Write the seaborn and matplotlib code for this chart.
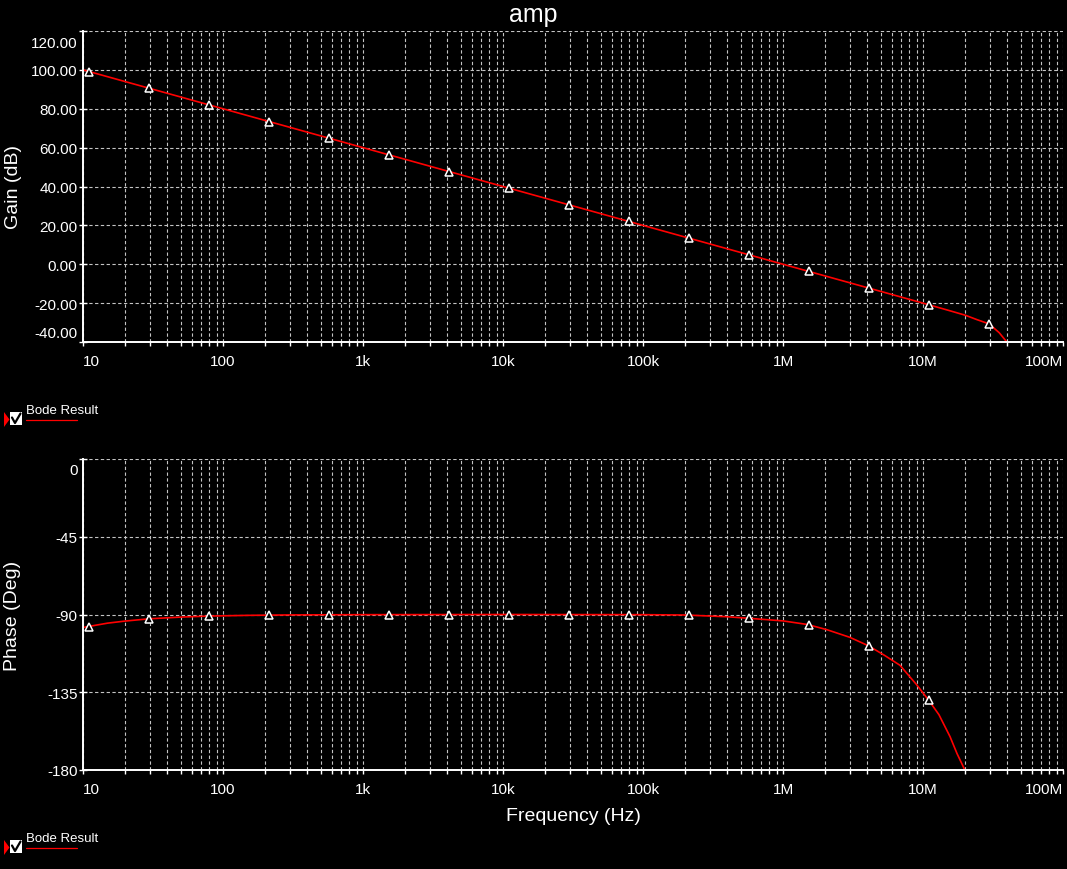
import numpy as np
import pandas as pd
import matplotlib
matplotlib.use('Agg')
import matplotlib.pyplot as plt
from matplotlib.ticker import FixedLocator, LogLocator, NullFormatter
from matplotlib.patches import Polygon, Rectangle
from matplotlib.transforms import ScaledTranslation
import seaborn as sns

# --- data ---
freq_ticks = [10, 100, 1e3, 1e4, 1e5, 1e6, 1e7, 1e8]
freq_labels = ['10', '100', '1k', '10k', '100k', '1M', '10M', '100M']
gain_ticks = [-40, -20, 0, 20, 40, 60, 80, 100, 120]
phase_ticks = [-180, -135, -90, -45, 0]

# gain trace
gain_freq = [10, 100, 1e3, 1e4, 1e5, 1e6, 1e7, 1.5e7, 2.0e7, 2.43e7, 2.97e7, 3.5e7, 4.0e7, 4.5e7]
gain_db = [100, 80, 60, 40, 20, 0, -20, -23.6, -26.2, -28.5, -30.7, -35.2, -40.3, -46]

# phase trace
phase_freq = [10, 15, 20, 29.6, 50, 79.5, 150, 300, 1e3, 1e4, 1e5, 2e5, 4e5, 5.7e5, 1e6, 1.5e6,
              2.06e6, 3.0e6, 4.1e6, 5.3e6, 6.85e6, 8.0e6, 9.0e6, 1.1e7, 1.3e7, 1.56e7, 1.75e7,
              1.99e7, 2.1e7]
phase_deg = [-97.5, -95.0, -93.8, -92.5, -91.5, -90.9, -90.5, -90.25, -90.1, -90.0, -90.1, -90.3,
             -91.3, -92.2, -93.7, -95.8, -98.8, -103.2, -108.2, -113.6, -119.4, -125.8, -130.6,
             -139.7, -148.0, -160.7, -170.5, -180.0, -186.0]

# marker (cursor) positions
marker_freq = [11.0, 29.6, 79.5, 213, 572, 1535, 4120, 11050, 29650, 79550, 213400, 572600,
               1536000, 4122000, 11060000, 29670000]
marker_gain = [99.1, 90.6, 82.0, 73.4, 64.8, 56.3, 47.7, 39.1, 30.5, 22.0, 13.4, 4.8,
               -3.7, -12.3, -21.0, -30.7]
marker_phase = [-97.0, -92.4, -90.9, -90.3, -90.1, -90.0, -90.0, -90.0, -90.0, -90.1, -90.4,
                -92.2, -95.8, -108.2, -139.7]

df_gain = pd.DataFrame({'freq': gain_freq, 'gain': gain_db})
df_phase = pd.DataFrame({'freq': phase_freq, 'phase': phase_deg})

#%%

sns.set_theme(style='dark', rc={'figure.facecolor': 'black', 'axes.facecolor': 'black',
                                'savefig.facecolor': 'black'})
plt.rcParams['font.family'] = ['Liberation Sans', 'DejaVu Sans']

W, H = 1067, 870
fig = plt.figure(figsize=(W / 100, H / 100), dpi=100)
ax1 = fig.add_axes([83 / W, 1 - 343 / H, 980 / W, 311 / H])
ax2 = fig.add_axes([83 / W, 1 - 771 / H, 980 / W, 311 / H])

grid_kw = dict(color='#c4c4c4', linestyle=(0, (3, 2.2)), linewidth=0.8)


def style_axes(ax, yticks, ylim, fmt):
    ax.set_xscale('log')
    ax.set_xlim(10, 1e8)
    ax.set_ylim(*ylim)
    ax.xaxis.set_major_locator(FixedLocator(freq_ticks))
    ax.xaxis.set_minor_locator(LogLocator(base=10, subs=range(2, 10), numticks=20))
    ax.xaxis.set_minor_formatter(NullFormatter())
    ax.set_xticklabels(freq_labels)
    ax.set_yticks(yticks)
    ax.set_yticklabels([fmt.format(v) for v in yticks])
    ax.grid(True, which='both', axis='x', **grid_kw)
    ax.grid(True, which='major', axis='y', **grid_kw)
    ax.tick_params(axis='x', which='both', bottom=True, direction='out', length=3, width=1,
                   color='white', labelcolor='white', labelsize=11, pad=6)
    ax.tick_params(axis='y', left=True, direction='inout', length=6, width=1,
                   color='white', labelcolor='white', labelsize=11, pad=1)
    for s in ['top', 'right']:
        ax.spines[s].set_visible(False)
    for s in ['left', 'bottom']:
        ax.spines[s].set_color('white')
        ax.spines[s].set_linewidth(1.4)
    xl = ax.get_xticklabels()
    xl[0].set_ha('left')
    xl[-1].set_ha('right')
    ax.set_axisbelow(True)


def nudge(label, dy_px):
    # move an edge tick label inside the axes, like the simulator does
    label.set_transform(label.get_transform() + ScaledTranslation(0, dy_px / 100, fig.dpi_scale_trans))


style_axes(ax1, gain_ticks, (-40, 120), '{:.2f}')
style_axes(ax2, phase_ticks, (-180, 0), '{:d}')

yl = ax1.get_yticklabels()
nudge(yl[0], 10)
nudge(yl[-1], -11)
nudge(ax2.get_yticklabels()[-1], -10)

# traces
sns.lineplot(data=df_gain, x='freq', y='gain', ax=ax1, color='#ff0000', linewidth=1.2,
             estimator=None, sort=False)
sns.lineplot(data=df_phase, x='freq', y='phase', ax=ax2, color='#ff0000', linewidth=1.2,
             estimator=None, sort=False)
ax1.plot(marker_freq, marker_gain, linestyle='none', marker='^', ms=6, mfc='black',
         mec='white', mew=1.1, zorder=5)
ax2.plot(marker_freq[:len(marker_phase)], marker_phase, linestyle='none', marker='^', ms=6,
         mfc='black', mec='white', mew=1.1, zorder=5)

ax1.set_xlabel('')
ax1.set_ylabel('Gain (dB)', color='white', fontsize=14)
ax1.yaxis.set_label_coords(-0.0714, 0.5)
ax1.yaxis.label.set_va('center')

ax2.set_ylabel('Phase (Deg)', color='white', fontsize=14)
ax2.yaxis.set_label_coords(-0.0724, 0.5)
ax2.yaxis.label.set_va('center')
ax2.set_xlabel('Frequency (Hz)', color='white', fontsize=14)
ax2.xaxis.set_label_coords(0.5, -0.1447)
ax2.xaxis.label.set_va('center')

fig.text(0.5, 1 - 15 / H, 'amp', color='white', fontsize=18, ha='center', va='center')

# "Bode Result" legend entries drawn in pixel space
ov = fig.add_axes([0, 0, 1, 1])
ov.set_xlim(0, W)
ov.set_ylim(H, 0)
ov.axis('off')
ov.patch.set_alpha(0)
for dy in [0, 428]:
    ov.add_patch(Polygon([(4, 413 + dy), (4, 428 + dy), (9.5, 420.5 + dy)], closed=True,
                         color='#ff0000', lw=0))
    ov.add_patch(Rectangle((10, 413 + dy), 12, 12.5, facecolor='white', edgecolor='white', lw=0))
    ov.plot([12, 15, 20.5], [418.5 + dy, 424 + dy, 414.5 + dy], color='black', lw=1.6)
    ov.text(26, 411 + dy, 'Bode Result', color='white', fontsize=9.5, ha='left', va='center')
    ov.plot([26, 77], [421 + dy, 421 + dy], color='#ff0000', lw=0.9)

fig.savefig('out.png', dpi=100, facecolor='black')
